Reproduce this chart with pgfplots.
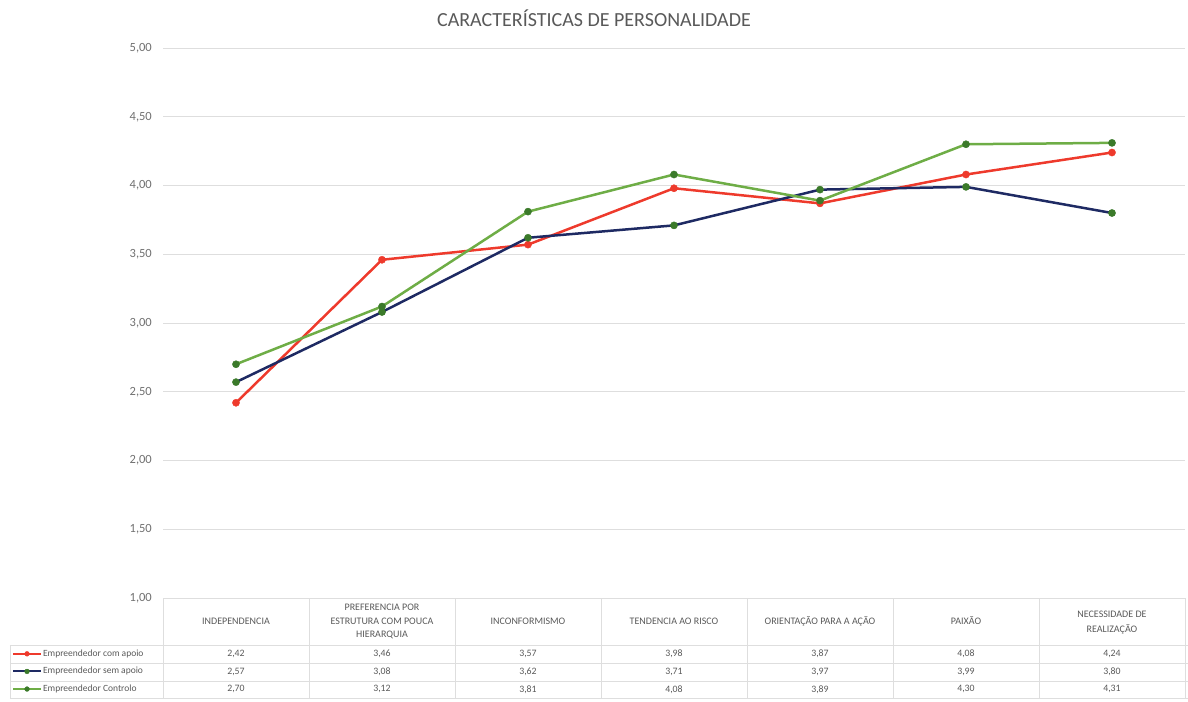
\documentclass[border=0pt]{standalone}
\usepackage{pgfplots}
\pgfplotsset{compat=1.18}
\usepackage{pgfplotstable}
\usepackage{fontspec}
\setmainfont{Carlito}
\definecolor{cred}{HTML}{EE3A2C}
\definecolor{cnavy}{HTML}{1E2A63}
\definecolor{cgreen}{HTML}{6EAD46}
\definecolor{cdkgreen}{HTML}{3B7A2A}
\definecolor{gridgray}{HTML}{DEDEDE}
\definecolor{txtgray}{HTML}{595959}
\definecolor{tickgray}{HTML}{707070}
\pgfplotstableread{
x a b c
0 2.42 2.57 2.70
1 3.46 3.08 3.12
2 3.57 3.62 3.81
3 3.98 3.71 4.08
4 3.87 3.97 3.89
5 4.08 3.99 4.30
6 4.24 3.80 4.31
}\data
\begin{document}
\begin{tikzpicture}
\useasboundingbox (0,0) rectangle (1188bp,-702bp);
\begin{axis}[
  at={(163bp,-598bp)}, anchor=south west,
  scale only axis, width=1022bp, height=550bp,
  xmin=-0.5, xmax=6.5, ymin=1, ymax=5,
  ytick={1,1.5,2,2.5,3,3.5,4,4.5,5}, xtick=\empty,
  ymajorgrids, grid style={draw=gridgray, line width=0.8bp},
  axis line style={draw=none}, major tick length=0pt,
  yticklabel style={font=\fontsize{12.5bp}{14bp}\selectfont, text=tickgray, inner sep=0pt, xshift=-11bp},
  /pgf/number format/.cd, use comma, fixed, fixed zerofill, precision=2, assume math mode=true,
  /pgfplots/.cd,
  clip=false,
  legend cell align=left,
  legend style={draw=none, fill=none, at={(axis cs:-1.534,0.658)}, anchor=north west,
    inner sep=0pt, outer sep=0pt, row sep=0pt, column sep=1bp,
    font=\fontsize{9.5bp}{11bp}\selectfont, text=txtgray,
    nodes={inner sep=0pt, minimum height=17.6bp}},
  legend image code/.code={\draw[mark repeat=2,mark phase=2,#1,mark size=2.4bp,line width=2bp] plot coordinates {(0bp,0bp)(14bp,0bp)(28bp,0bp)};},
]
% table lines
\draw[gridgray, line width=0.8bp] (axis cs:-1.548,0.658) -- (axis cs:6.52,0.658);
\draw[gridgray, line width=0.8bp] (axis cs:-1.548,0.527) -- (axis cs:6.52,0.527);
\draw[gridgray, line width=0.8bp] (axis cs:-1.548,0.396) -- (axis cs:6.52,0.396);
\draw[gridgray, line width=0.8bp] (axis cs:-1.548,0.273) -- (axis cs:6.52,0.273);
\draw[gridgray, line width=0.8bp] (axis cs:-1.548,0.658) -- (axis cs:-1.548,0.273);
\pgfplotsinvokeforeach{-0.5,0.5,1.5,2.5,3.5,4.5,5.5,6.5}{
  \draw[gridgray, line width=0.8bp] (axis cs:#1,1) -- (axis cs:#1,0.273);
}
% header labels
\begin{scope}[every node/.style={font=\fontsize{10bp}{11bp}\selectfont, text=txtgray, align=center, inner sep=0pt}]
\node at (axis cs:0,0.833) {INDEPENDENCIA};
\node at (axis cs:1,0.935) {PREFERENCIA POR};
\node at (axis cs:1,0.833) {ESTRUTURA COM POUCA};
\node at (axis cs:1,0.731) {HIERARQUIA};
\node at (axis cs:2,0.833) {INCONFORMISMO};
\node at (axis cs:3,0.833) {TENDENCIA AO RISCO};
\node at (axis cs:4,0.833) {ORIENTAÇÃO PARA A AÇÃO};
\node at (axis cs:5,0.833) {PAIXÃO};
\node at (axis cs:6,0.884) {NECESSIDADE DE};
\node at (axis cs:6,0.775) {REALIZAÇÃO};
\end{scope}
% data
\addplot[cred, line width=2.5bp, mark=*, mark size=3.6bp, mark options={fill=cred, draw=cred, line width=0.4bp}] table[x=x,y=a] {\data};
\addlegendentry{Empreendedor com apoio}
\addplot[cnavy, line width=2.5bp, mark=*, mark size=3.6bp, mark options={fill=cdkgreen, draw=cdkgreen, line width=0.4bp}] table[x=x,y=b] {\data};
\addlegendentry{Empreendedor sem apoio}
\addplot[cgreen, line width=2.5bp, mark=*, mark size=3.6bp, mark options={fill=cdkgreen, draw=cdkgreen, line width=0.4bp}] table[x=x,y=c] {\data};
\addlegendentry{Empreendedor Controlo}
% table values
\pgfplotsset{tabvals/.style={forget plot, draw=none, mark=none, point meta=explicit,
  nodes near coords={\pgfmathprintnumber[use comma,fixed,fixed zerofill,precision=2]{\pgfplotspointmeta}},
  every node near coord/.append style={anchor=center, inner sep=0pt, text=txtgray, font=\fontsize{9.8bp}{11bp}\selectfont}}}
\addplot[tabvals] table[x=x, y expr=0.593, meta=a] {\data};
\addplot[tabvals] table[x=x, y expr=0.462, meta=b] {\data};
\addplot[tabvals] table[x=x, y expr=0.335, meta=c] {\data};
\end{axis}
\node[font=\fontsize{20bp}{22bp}\selectfont, text=txtgray] at (594bp,-18bp) {CARACTERÍSTICAS DE PERSONALIDADE};
\end{tikzpicture}
\end{document}
